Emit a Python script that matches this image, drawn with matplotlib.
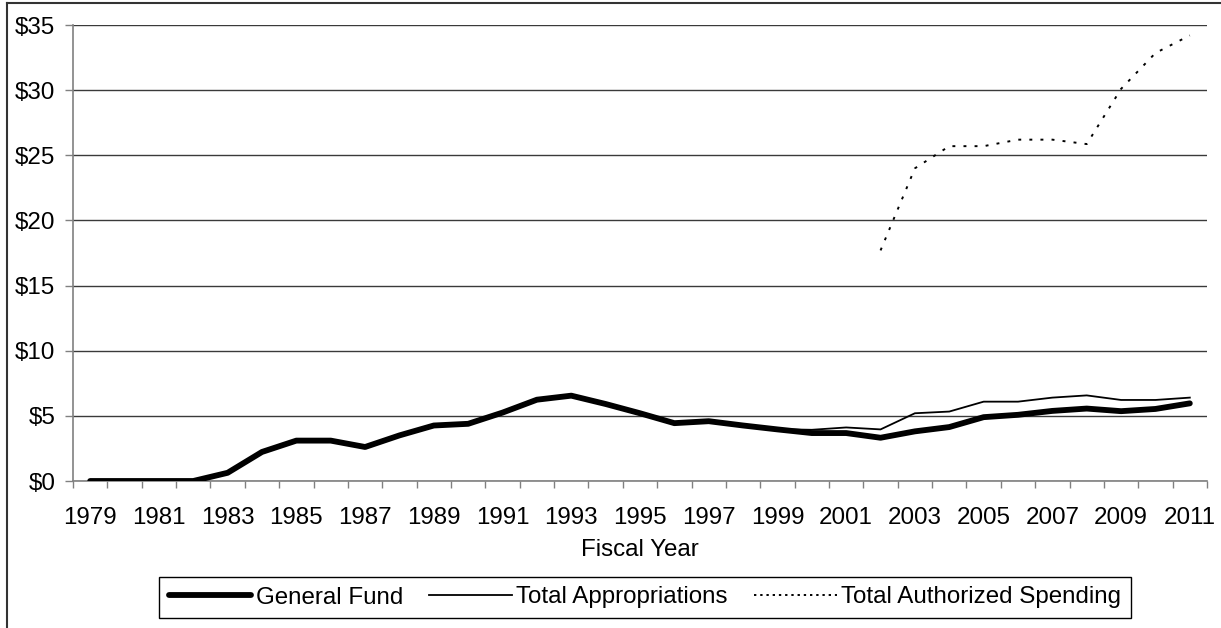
import matplotlib
matplotlib.use('Agg')
import matplotlib.pyplot as plt
import numpy as np
from matplotlib.lines import Line2D

# ---------------- data ----------------
years = list(range(1979, 2012))
general_fund = [0.0, 0.0, 0.0, 0.0, 0.63, 2.23, 3.10, 3.10, 2.61, 3.50,
                4.26, 4.39, 5.25, 6.24, 6.55, 5.91, 5.20, 4.44, 4.59, 4.26,
                3.96, 3.68, 3.68, 3.32, 3.81, 4.14, 4.90, 5.08, 5.38, 5.56,
                5.36, 5.53, 5.96]
total_appropriations = [0.0, 0.0, 0.0, 0.0, 0.63, 2.23, 3.10, 3.10, 2.61, 3.50,
                        4.26, 4.39, 5.25, 6.24, 6.55, 5.91, 5.20, 4.44, 4.59, 4.26,
                        3.98, 3.93, 4.11, 3.96, 5.20, 5.33, 6.09, 6.09, 6.40, 6.57,
                        6.22, 6.22, 6.40]
auth_years = list(range(2002, 2012))
total_authorized = [17.7, 24.0, 25.7, 25.7, 26.2, 26.2, 25.86, 30.1, 32.85, 34.2]

ytick_values = [0, 5, 10, 15, 20, 25, 30, 35]
ytick_labels = ['$0', '$5', '$10', '$15', '$20', '$25', '$30', '$35']
series_labels = ['General Fund', 'Total Appropriations', 'Total Authorized Spending']
xlabel = 'Fiscal Year'

# ---------------- style ----------------
plt.rcParams['font.family'] = ['Liberation Sans', 'DejaVu Sans']
FS = 17.4
W, H = 1221, 628

fig = plt.figure(figsize=(W / 100, H / 100), dpi=100)
ax = fig.add_axes([73 / W, 1 - 481 / H, (1207 - 73) / W, (481 - 25) / H])

x = np.arange(len(years))
x_auth = np.array([years.index(y) for y in auth_years])

ax.plot(x, total_appropriations, color='black', lw=1.3, zorder=3,
        label=series_labels[1])
ax.plot(x, general_fund, color='black', lw=4.2, zorder=4,
        solid_capstyle='round', solid_joinstyle='round', label=series_labels[0])
ax.plot(x_auth, total_authorized, color='black', lw=1.4, zorder=3,
        linestyle=(0, (1.5, 4.2)), label=series_labels[2])

ax.set_xlim(-0.5, len(years) - 0.5)
ax.set_ylim(0, 35)

# y axis
ax.set_yticks(ytick_values)
ax.set_yticklabels(ytick_labels, fontsize=FS)
ax.tick_params(axis='y', length=5.8, width=1.0, color='#808080', pad=7)
ax.yaxis.grid(True, color='#3a3a3a', lw=1.0)
ax.set_axisbelow(True)

# x axis
label_idx = x[::2]
ax.set_xticks(label_idx)
ax.set_xticklabels([str(years[i]) for i in label_idx], fontsize=FS)
ax.set_xticks(np.arange(-0.5, len(years), 1.0), minor=True)
ax.tick_params(axis='x', which='major', length=0, pad=19)
ax.tick_params(axis='x', which='minor', length=5.2, width=1.0, color='#808080')

for s in ['top', 'right']:
    ax.spines[s].set_visible(False)
for s in ['left', 'bottom']:
    ax.spines[s].set_color('#808080')
    ax.spines[s].set_linewidth(1.2)
    ax.spines[s].set_zorder(2.5)

fig.text(640 / W, 1 - 550 / H, xlabel, ha='center', va='center', fontsize=FS)

handles = [Line2D([], [], color='black', lw=4.2, solid_capstyle='round'),
           Line2D([], [], color='black', lw=1.3),
           Line2D([], [], color='black', lw=1.4, linestyle=(0, (1.2, 2.0)))]
leg = fig.legend(handles, series_labels, loc='center',
                 bbox_to_anchor=(645 / W, 1 - 597.5 / H), ncol=3, fontsize=FS,
                 frameon=True, fancybox=False, edgecolor='black', framealpha=1,
                 handlelength=3.4, handletextpad=0.2, columnspacing=1.1,
                 borderpad=0.4)
leg.get_frame().set_linewidth(1.0)

# figure border (left and top)
fig.add_artist(Line2D([7 / W, 7 / W], [0, 1 - 3 / H], transform=fig.transFigure,
                      color='#333333', lw=1.5))
fig.add_artist(Line2D([7 / W, 1], [1 - 3 / H, 1 - 3 / H], transform=fig.transFigure,
                      color='#333333', lw=1.5))

fig.savefig('out.png', dpi=100)
